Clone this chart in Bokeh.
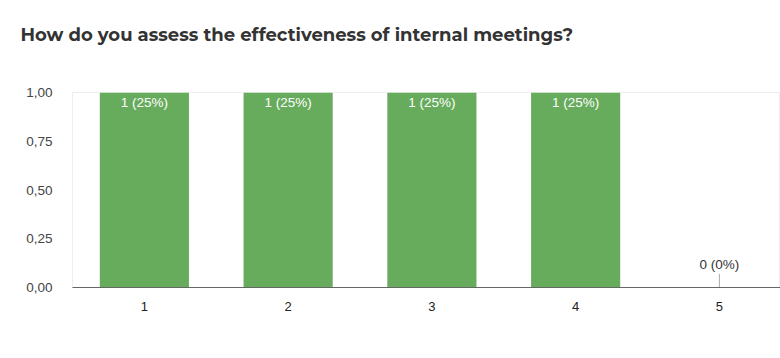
from bokeh.plotting import figure
from bokeh.models import ColumnDataSource, FixedTicker, Range1d, Title
from bokeh.embed import file_html
from bokeh.resources import INLINE
from bokeh.core.properties import value

categories = [1, 2, 3, 4, 5]
counts = [1, 1, 1, 1, 0]
percents = [25, 25, 25, 25, 0]
y_ticks = [0, 0.25, 0.5, 0.75, 1.0]
y_tick_labels = ["0,00", "0,25", "0,50", "0,75", "1,00"]
title_text = "How do you assess the effectiveness of internal meetings?"

labels = [f"{c} ({p}%)" for c, p in zip(counts, percents)]

p = figure(width=780, height=358, output_backend="svg", toolbar_location=None,
           x_range=Range1d(0.5, 5.425), y_range=Range1d(0, 1.0),
           min_border_left=72, min_border_right=0, min_border_bottom=71, min_border_top=0)

spacer = Title(text=" ", text_font_size="1px", standoff=23)
p.add_layout(spacer, "above")
main_title = Title(text=title_text, text_font="Montserrat, Open Sans, sans-serif",
                   text_font_size="18px", text_font_style="bold", text_color="#333333",
                   offset=-52, standoff=42)
p.add_layout(main_title, "above")

nz = [i for i, c in enumerate(counts) if c > 0]
z = [i for i, c in enumerate(counts) if c == 0]

src = ColumnDataSource(dict(x=[categories[i] for i in nz], top=[counts[i] for i in nz],
                            lab=[labels[i] for i in nz]))
p.vbar(x="x", top="top", width=0.62, source=src, fill_color="#67ab5d", line_color=None)
p.text(x="x", y="top", text="lab", source=src, text_align="center", text_baseline="top",
       y_offset=2, text_color="white", text_font_size="13.5px", text_font=value("Liberation Sans"))

zsrc = ColumnDataSource(dict(x=[categories[i] for i in z], y0=[counts[i] for i in z],
                             lab=[labels[i] for i in z]))
p.segment(x0="x", x1="x", y0="y0", y1=0.07, source=zsrc, line_color="#aaaaaa", line_width=1)
p.text(x="x", y=0.07, text="lab", source=zsrc, text_align="center", text_baseline="bottom",
       y_offset=-2, text_color="#333333", text_font_size="13.5px", text_font=value("Liberation Sans"))

p.xgrid.visible = False
p.ygrid.visible = False
p.outline_line_color = "#eeeeee"

p.xaxis.ticker = FixedTicker(ticks=categories)
p.xaxis.major_tick_line_color = None
p.xaxis.minor_tick_line_color = None
p.xaxis.axis_line_color = "#666666"
p.xaxis.axis_line_width = 1
p.xaxis.major_label_text_font = "Liberation Sans"
p.xaxis.major_label_text_font_size = "13px"
p.xaxis.major_label_text_color = "#222222"
p.xaxis.major_label_standoff = 8

p.yaxis.ticker = FixedTicker(ticks=y_ticks)
p.yaxis.major_label_overrides = {t: l for t, l in zip(y_ticks, y_tick_labels)}
p.yaxis.major_tick_line_color = None
p.yaxis.minor_tick_line_color = None
p.yaxis.axis_line_color = None
p.yaxis.major_label_text_font = "Liberation Sans"
p.yaxis.major_label_text_font_size = "13.5px"
p.yaxis.major_label_text_color = "#444444"
p.yaxis.major_label_standoff = 14

open("out.html", "w").write(file_html(p, INLINE))
